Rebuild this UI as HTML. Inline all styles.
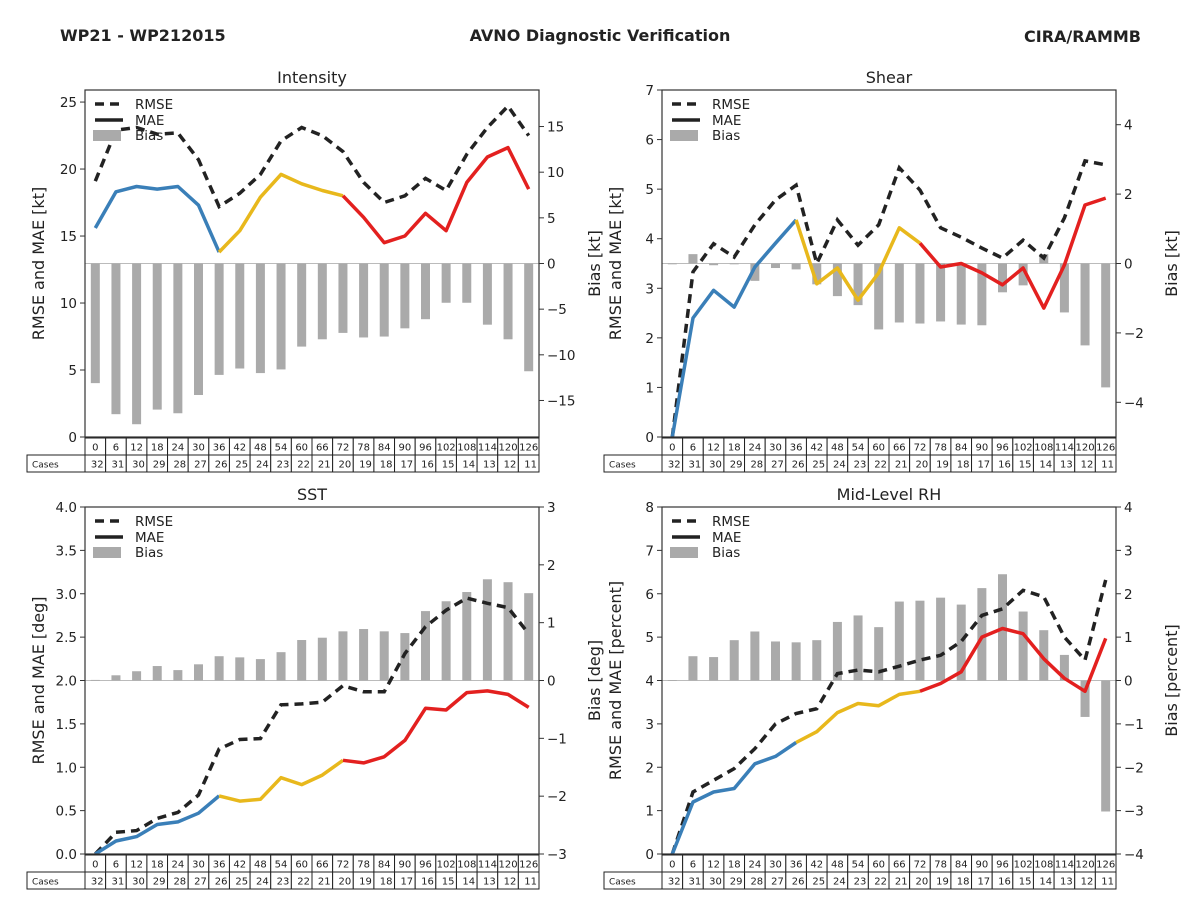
<!DOCTYPE html>
<html><head><meta charset="utf-8"><style>
body{margin:0;background:#fff;}
svg text{font-family:"DejaVu Sans","Liberation Sans",sans-serif;fill:#222;}
</style></head><body>
<svg id="chart" width="1200" height="900" viewBox="0 0 1200 900" xmlns="http://www.w3.org/2000/svg">
<rect width="1200" height="900" fill="#fff"/>
<text x="60" y="41" font-size="16" font-weight="bold">WP21 - WP212015</text>
<text x="600" y="41" font-size="16" font-weight="bold" text-anchor="middle">AVNO Diagnostic Verification</text>
<text x="1141" y="42" font-size="16" font-weight="bold" text-anchor="end">CIRA/RAMMB</text>
<g id="panels"></g>
</svg>
<script>
const hours = [0,6,12,18,24,30,36,42,48,54,60,66,72,78,84,90,96,102,108,114,120,126];
const cases = [32,31,30,29,28,27,26,25,24,23,22,21,20,19,18,17,16,15,14,13,12,11];

const intRmse = [19.1,22.9,23.1,22.6,22.7,20.7,17.2,18.2,19.6,22.1,23.1,22.5,21.3,19.0,17.5,18.0,19.3,18.4,21.1,23.1,24.7,22.5];
const intMae  = [15.6,18.3,18.7,18.5,18.7,17.3,13.8,15.4,17.9,19.6,18.9,18.4,18.0,16.4,14.5,15.0,16.7,15.4,19.0,20.9,21.6,18.5];
const intBias = [-13.1,-16.5,-17.6,-16.0,-16.4,-14.4,-12.2,-11.5,-12.0,-11.6,-9.1,-8.3,-7.6,-8.1,-8.0,-7.1,-6.1,-4.3,-4.3,-6.7,-8.3,-11.8];

const shrRmse = [0,3.33,3.9,3.63,4.28,4.78,5.08,3.5,4.38,3.87,4.28,5.43,4.98,4.22,4.03,3.81,3.61,3.97,3.61,4.42,5.57,5.49];
const shrMae  = [0,2.4,2.96,2.62,3.43,3.91,4.38,3.09,3.41,2.76,3.31,4.22,3.91,3.43,3.5,3.31,3.07,3.41,2.6,3.47,4.68,4.82];
const shrBias = [-0.02,0.27,-0.05,-0.02,-0.5,-0.13,-0.17,-0.6,-0.94,-1.2,-1.9,-1.7,-1.73,-1.67,-1.76,-1.78,-0.83,-0.63,0.27,-1.41,-2.36,-3.57];

const sstRmse = [0,0.25,0.27,0.41,0.48,0.68,1.21,1.32,1.33,1.72,1.73,1.75,1.94,1.87,1.87,2.31,2.62,2.81,2.95,2.89,2.84,2.54];
const sstMae  = [0,0.15,0.2,0.34,0.37,0.47,0.67,0.61,0.63,0.88,0.8,0.91,1.08,1.05,1.12,1.31,1.68,1.66,1.86,1.88,1.84,1.69];
const sstBias = [0.01,0.09,0.16,0.25,0.18,0.28,0.42,0.4,0.37,0.49,0.7,0.74,0.85,0.89,0.85,0.82,1.2,1.37,1.53,1.75,1.7,1.51];

const rhRmse = [0,1.43,1.7,1.97,2.43,3.0,3.24,3.35,4.16,4.24,4.2,4.33,4.47,4.58,4.9,5.5,5.65,6.08,5.93,5.0,4.47,6.32];
const rhMae  = [0,1.2,1.43,1.51,2.08,2.25,2.57,2.82,3.26,3.47,3.42,3.68,3.75,3.93,4.2,5.0,5.2,5.08,4.5,4.05,3.75,4.97];
const rhBias = [0.01,0.56,0.54,0.93,1.13,0.9,0.88,0.93,1.35,1.5,1.23,1.82,1.84,1.91,1.75,2.13,2.45,1.59,1.16,0.59,-0.84,-3.02];

const intLeftTicks = [0,5,10,15,20,25];
const intRightTicks = [15,10,5,0,-5,-10,-15];
const shrLeftTicks = [0,1,2,3,4,5,6,7];
const shrRightTicks = [4,2,0,-2,-4];
const sstLeftTicks = [0,0.5,1.0,1.5,2.0,2.5,3.0,3.5,4.0];
const sstRightTicks = [3,2,1,0,-1,-2,-3];
const rhLeftTicks = [0,1,2,3,4,5,6,7,8];
const rhRightTicks = [4,3,2,1,0,-1,-2,-3,-4];

const NS = "http://www.w3.org/2000/svg";
const root = document.getElementById('panels');
function mk(tag, attrs, parent, text){
  const e = document.createElementNS(NS, tag);
  for (const k in attrs) e.setAttribute(k, attrs[k]);
  if (text !== undefined) e.textContent = text;
  parent.appendChild(e);
  return e;
}
function fmtL(v, dec){ return dec ? v.toFixed(1) : String(v); }
function fmtR(v){ return v < 0 ? '\u2212' + Math.abs(v) : String(v); }

function panel(cfg){
  const g = mk('g', {}, root);
  
  
  const X0 = cfg.x0, X1 = cfg.x1, Y0 = cfg.y0, Y1 = cfg.y1;
  const step = (X1 - X0) / 22;
  const xs = i => X0 + step * (i + 0.5);
  const yL = v => Y1 - (v / cfg.lmax) * (Y1 - Y0);
  const yR = v => (Y0 + Y1) / 2 - (v / cfg.rmax) * (Y1 - Y0) / 2;

  const t = mk('text', {x:(X0+X1)/2, y:Y0-7, 'font-size':16, 'text-anchor':'middle'}, g, cfg.title);
  
  

  const zl = mk('line', {x1:X0, x2:X1, y1:yR(0), y2:yR(0), stroke:'#bbb', 'stroke-width':1}, g);
  
  

  cfg.bias.forEach((b, i) => {
    const y0 = yR(0), y1 = yR(b);
    const r = mk('rect', {x:xs(i)-4.5, y:Math.min(y0,y1), width:9, height:Math.max(0.8,Math.abs(y1-y0)), fill:'#aaaaaa'}, g);
    
    
  });

  const rp = cfg.rmse.map((v,i)=> (i?'L':'M') + xs(i).toFixed(1) + ',' + yL(v).toFixed(1)).join(' ');
  const rl = mk('path', {d:rp, fill:'none', stroke:'#222', 'stroke-width':3.5, 'stroke-dasharray':'9,6'}, g);
  
  

  const segs = [[0,6,'#3a7fb8','mae-line-early'],[6,12,'#e8b81c','mae-line-mid'],[12,21,'#e3201f','mae-line-late']];
  segs.forEach(s => {
    let d = '';
    for (let i = s[0]; i <= s[1]; i++) d += (i===s[0]?'M':'L') + xs(i).toFixed(1) + ',' + yL(cfg.mae[i]).toFixed(1) + ' ';
    const p = mk('path', {d:d, fill:'none', stroke:s[2], 'stroke-width':3.5, 'stroke-linejoin':'round'}, g);
    
    
  });

  const fr = mk('rect', {x:X0, y:Y0, width:X1-X0, height:Y1-Y0, fill:'none', stroke:'#333', 'stroke-width':1.2}, g);
  
  

  cfg.lticks.forEach(v => {
    const y = yL(v);
    mk('line', {x1:X0-5, x2:X0, y1:y, y2:y, stroke:'#333'}, g);
    const tl = mk('text', {x:X0-8, y:y+5, 'font-size':13.5, 'text-anchor':'end'}, g, fmtL(v, cfg.ldec));
    
    
  });
  cfg.rticks.forEach(v => {
    const y = yR(v);
    mk('line', {x1:X1, x2:X1+5, y1:y, y2:y, stroke:'#333'}, g);
    const tr = mk('text', {x:X1+8, y:y+5, 'font-size':13.5}, g, fmtR(v));
    
    
  });

  const ly = mk('text', {transform:`translate(${X0-41},${(Y0+Y1)/2}) rotate(-90)`, 'font-size':16, 'text-anchor':'middle'}, g, cfg.lLabel);
  
  
  const ry = mk('text', {transform:`translate(${X1+61},${(Y0+Y1)/2}) rotate(-90)`, 'font-size':16, 'text-anchor':'middle'}, g, cfg.rLabel);
  
  

  const lg = mk('g', {}, g);
  
  
  const lx = X0 + 8, ly0 = Y0 + 14;
  mk('line', {x1:lx+2, x2:lx+30, y1:ly0, y2:ly0, stroke:'#222', 'stroke-width':3.5, 'stroke-dasharray':'9,6'}, lg);
  mk('text', {x:lx+42, y:ly0+5, 'font-size':13.5}, lg, 'RMSE');
  mk('line', {x1:lx+2, x2:lx+30, y1:ly0+16, y2:ly0+16, stroke:'#222', 'stroke-width':3.5}, lg);
  mk('text', {x:lx+42, y:ly0+21, 'font-size':13.5}, lg, 'MAE');
  mk('rect', {x:lx, y:ly0+26, width:28, height:11, fill:'#aaaaaa'}, lg);
  mk('text', {x:lx+42, y:ly0+36, 'font-size':13.5}, lg, 'Bias');

  const tb = mk('g', {}, g);
  
  
  const r1 = Y1 + 1, rh = 17;
  mk('rect', {x:X0-58, y:r1+rh, width:58, height:rh, fill:'#fff', stroke:'#222'}, tb);
  mk('text', {x:X0-53, y:r1+rh+12.5, 'font-size':9}, tb, 'Cases');
  hours.forEach((h, i) => {
    const cx = X0 + step * i;
    mk('rect', {x:cx, y:r1, width:step, height:rh, fill:'#fff', stroke:'#222'}, tb);
    mk('text', {x:cx+step/2, y:r1+12.5, 'font-size':10, 'text-anchor':'middle'}, tb, String(h));
    mk('rect', {x:cx, y:r1+rh, width:step, height:rh, fill:'#fff', stroke:'#222'}, tb);
    mk('text', {x:cx+step-2, y:r1+rh+12.5, 'font-size':10, 'text-anchor':'end'}, tb, String(cases[i]));
  });
}

panel({name:'intensity', title:'Intensity', x0:85, x1:539, y0:90, y1:437, lmax:25.9, rmax:19, lticks:intLeftTicks, rticks:intRightTicks, ldec:false, rmse:intRmse, mae:intMae, bias:intBias, lLabel:'RMSE and MAE [kt]', rLabel:'Bias [kt]'});
panel({name:'shear', title:'Shear', x0:662, x1:1116, y0:90, y1:437, lmax:7, rmax:5, lticks:shrLeftTicks, rticks:shrRightTicks, ldec:false, rmse:shrRmse, mae:shrMae, bias:shrBias, lLabel:'RMSE and MAE [kt]', rLabel:'Bias [kt]'});
panel({name:'sst', title:'SST', x0:85, x1:539, y0:507, y1:854, lmax:4, rmax:3, lticks:sstLeftTicks, rticks:sstRightTicks, ldec:true, rmse:sstRmse, mae:sstMae, bias:sstBias, lLabel:'RMSE and MAE [deg]', rLabel:'Bias [deg]'});
panel({name:'mid-level-rh', title:'Mid-Level RH', x0:662, x1:1116, y0:507, y1:854, lmax:8, rmax:4, lticks:rhLeftTicks, rticks:rhRightTicks, ldec:false, rmse:rhRmse, mae:rhMae, bias:rhBias, lLabel:'RMSE and MAE [percent]', rLabel:'Bias [percent]'});
</script>
</body></html>
